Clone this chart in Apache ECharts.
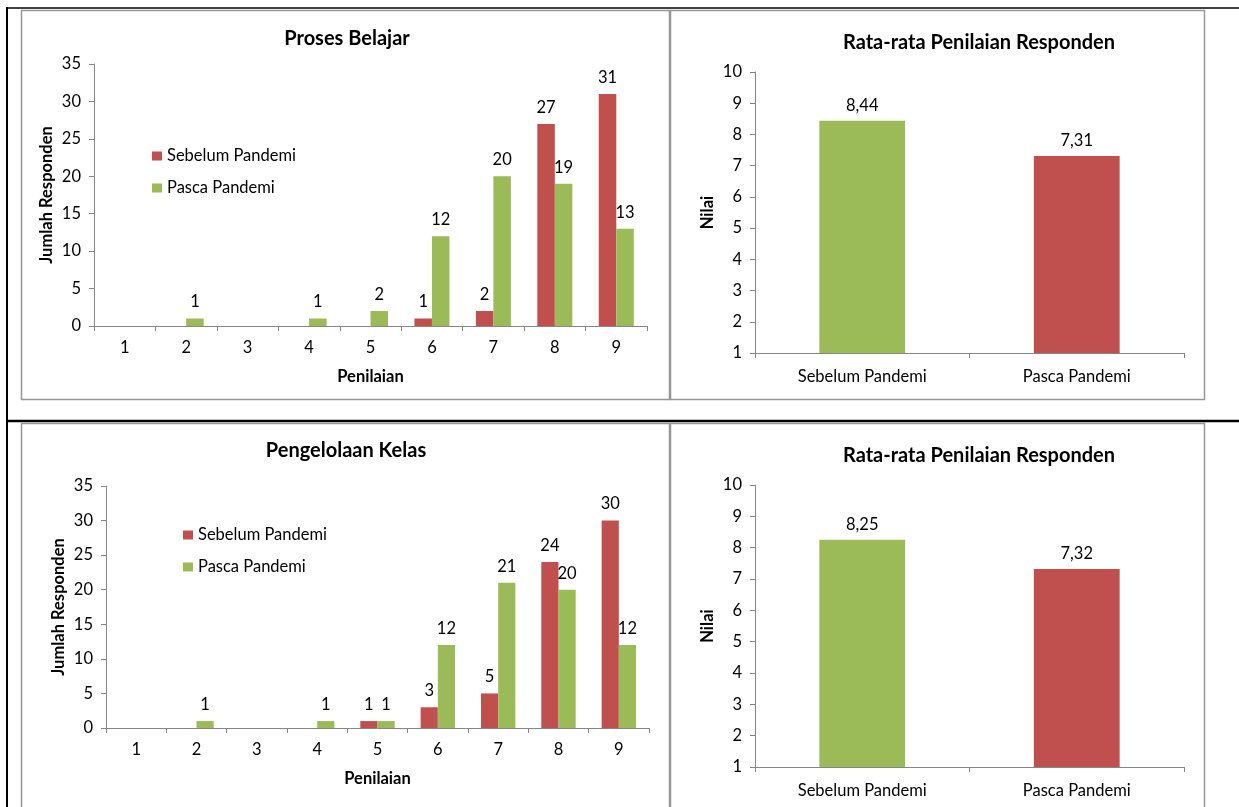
<!DOCTYPE html>
<html>
<head>
<meta charset="utf-8">
<script src="https://cdn.jsdelivr.net/npm/echarts@6/dist/echarts.min.js"></script>
<style>
  html, body { margin: 0; padding: 0; background: #ffffff; }
  #chart { width: 1239px; height: 807px; }
</style>
</head>
<body>
<div id="chart"></div>
<script>
// Rating scale (1..9) and number of respondents per rating
const ratingCategories = ['1', '2', '3', '4', '5', '6', '7', '8', '9'];
const prosesSebelum = [0, 0, 0, 0, 0, 1, 2, 27, 31];
const prosesPasca   = [0, 1, 0, 1, 2, 12, 20, 19, 13];
const kelasSebelum  = [0, 0, 0, 0, 1, 3, 5, 24, 30];
const kelasPasca    = [0, 1, 0, 1, 1, 12, 21, 20, 12];

// Average score per period
const periodCategories = ['Sebelum Pandemi', 'Pasca Pandemi'];
const prosesRataRata = [8.44, 7.31];
const kelasRataRata  = [8.25, 7.32];

const seriesNames = ['Sebelum Pandemi', 'Pasca Pandemi'];

const RED = '#C0504D';
const GREEN = '#9BBB59';
const periodColors = [GREEN, RED];
const AXIS_GRAY = '#868686';
const BOX_GRAY = '#969696';
const FONT = 'Lato';
const TEXT_SIZE = 16.5;
const AXIS_NAME_SIZE = 16.5;
const TITLE_SIZE = 20;

const chart = echarts.init(document.getElementById('chart'));

const axisNameStyle = { fontFamily: FONT, fontWeight: 'bold', fontSize: AXIS_NAME_SIZE, color: '#000' };
const tickTextStyle = { fontFamily: FONT, fontSize: TEXT_SIZE, color: '#000' };

function countXAxis(gridIndex, nameGap) {
  return {
    type: 'category', gridIndex, data: ratingCategories,
    name: 'Penilaian', nameLocation: 'middle', nameGap,
    nameTextStyle: axisNameStyle,
    axisLine: { lineStyle: { color: AXIS_GRAY, width: 1 } },
    axisTick: { show: true, length: 5, lineStyle: { color: AXIS_GRAY } },
    axisLabel: Object.assign({ margin: 13 }, tickTextStyle)
  };
}
function countYAxis(gridIndex) {
  return {
    type: 'value', gridIndex, min: 0, max: 35, interval: 5,
    name: 'Jumlah Responden', nameLocation: 'middle', nameGap: 39, nameRotate: 90,
    nameTextStyle: axisNameStyle,
    axisLine: { show: true, lineStyle: { color: AXIS_GRAY, width: 1 } },
    axisTick: { show: true, length: 5, lineStyle: { color: AXIS_GRAY } },
    axisLabel: Object.assign({ margin: 13 }, tickTextStyle),
    splitLine: { show: false }
  };
}
function periodXAxis(gridIndex) {
  return {
    type: 'category', gridIndex, data: periodCategories,
    axisLine: { lineStyle: { color: AXIS_GRAY, width: 1 } },
    axisTick: { show: true, length: 5, lineStyle: { color: AXIS_GRAY } },
    axisLabel: Object.assign({ margin: 15 }, tickTextStyle)
  };
}
function periodYAxis(gridIndex) {
  return {
    type: 'value', gridIndex, min: 1, max: 10, interval: 1,
    name: 'Nilai', nameLocation: 'middle', nameGap: 39, nameRotate: 90,
    nameTextStyle: axisNameStyle,
    axisLine: { show: true, lineStyle: { color: AXIS_GRAY, width: 1 } },
    axisTick: { show: true, length: 5, lineStyle: { color: AXIS_GRAY } },
    axisLabel: Object.assign({ margin: 13 }, tickTextStyle),
    splitLine: { show: false }
  };
}

const countLabel = Object.assign({
  show: true, position: 'top', distance: 8,
  formatter: p => (p.value === 0 ? '' : String(p.value))
}, tickTextStyle);
const periodLabel = Object.assign({
  show: true, position: 'top', distance: 7,
  formatter: p => p.value.toFixed(2).replace('.', ',')
}, tickTextStyle);

function countSeries(name, data, color, axisIndex) {
  return {
    type: 'bar', name, data, xAxisIndex: axisIndex, yAxisIndex: axisIndex,
    barWidth: '28.5%', barGap: '0%',
    itemStyle: { color },
    label: countLabel
  };
}
function periodSeries(data, axisIndex) {
  return {
    type: 'bar', name: 'Rata-rata', data, xAxisIndex: axisIndex, yAxisIndex: axisIndex,
    barWidth: '40%', clip: true,
    itemStyle: { color: p => periodColors[p.dataIndex] },
    label: periodLabel
  };
}

function legendAt(left, top) {
  return {
    orient: 'vertical', left, top, data: seriesNames,
    icon: 'rect', itemWidth: 10, itemHeight: 9, itemGap: 12,
    selectedMode: false,
    textStyle: { fontFamily: FONT, fontSize: TEXT_SIZE, color: '#000', lineHeight: 20 }
  };
}

function titleText(text, x, y) {
  return {
    type: 'text', x, y, silent: true,
    style: { text, fill: '#000', font: 'bold ' + TITLE_SIZE + 'px ' + FONT, textAlign: 'center', textVerticalAlign: 'middle' }
  };
}
function frame(x, y, w, h, color, lw) {
  return {
    type: 'rect', silent: true, z: -1,
    shape: { x, y, width: w, height: h },
    style: { fill: 'none', stroke: color, lineWidth: lw }
  };
}
function rule(x1, y1, x2, y2, color, lw) {
  return {
    type: 'line', silent: true, z: -1,
    shape: { x1, y1, x2, y2 },
    style: { stroke: color, lineWidth: lw }
  };
}

chart.setOption({
  animation: false,
  backgroundColor: '#ffffff',
  grid: [
    { left: 94, top: 64, width: 553, height: 262 },
    { left: 755, top: 72, width: 429, height: 281 },
    { left: 106, top: 486, width: 543, height: 242 },
    { left: 755, top: 485, width: 429, height: 282 }
  ],
  xAxis: [countXAxis(0, 42), periodXAxis(1), countXAxis(2, 42), periodXAxis(3)],
  yAxis: [countYAxis(0), periodYAxis(1), countYAxis(2), periodYAxis(3)],
  legend: [legendAt(147, 141), legendAt(178, 520)],
  series: [
    countSeries('Sebelum Pandemi', prosesSebelum, RED, 0),
    countSeries('Pasca Pandemi', prosesPasca, GREEN, 0),
    periodSeries(prosesRataRata, 1),
    countSeries('Sebelum Pandemi', kelasSebelum, RED, 2),
    countSeries('Pasca Pandemi', kelasPasca, GREEN, 2),
    periodSeries(kelasRataRata, 3)
  ],
  graphic: [
    // table rules
    rule(7, 7, 7, 807, '#000', 2),
    rule(6, 8, 1239, 8, '#000', 1.5),
    rule(6, 421, 1239, 421, '#000', 2.5),
    // chart frames
    frame(21.5, 10.5, 648, 389, BOX_GRAY, 1.5),
    frame(670.5, 10.5, 534, 389, BOX_GRAY, 1.5),
    frame(21.5, 423.5, 648, 400, BOX_GRAY, 1.5),
    frame(670.5, 423.5, 534, 400, BOX_GRAY, 1.5),
    // chart titles
    titleText('Proses Belajar', 347, 39),
    titleText('Rata-rata Penilaian Responden', 979, 43),
    titleText('Pengelolaan Kelas', 346, 451),
    titleText('Rata-rata Penilaian Responden', 979, 456)
  ]
});
</script>
</body>
</html>
